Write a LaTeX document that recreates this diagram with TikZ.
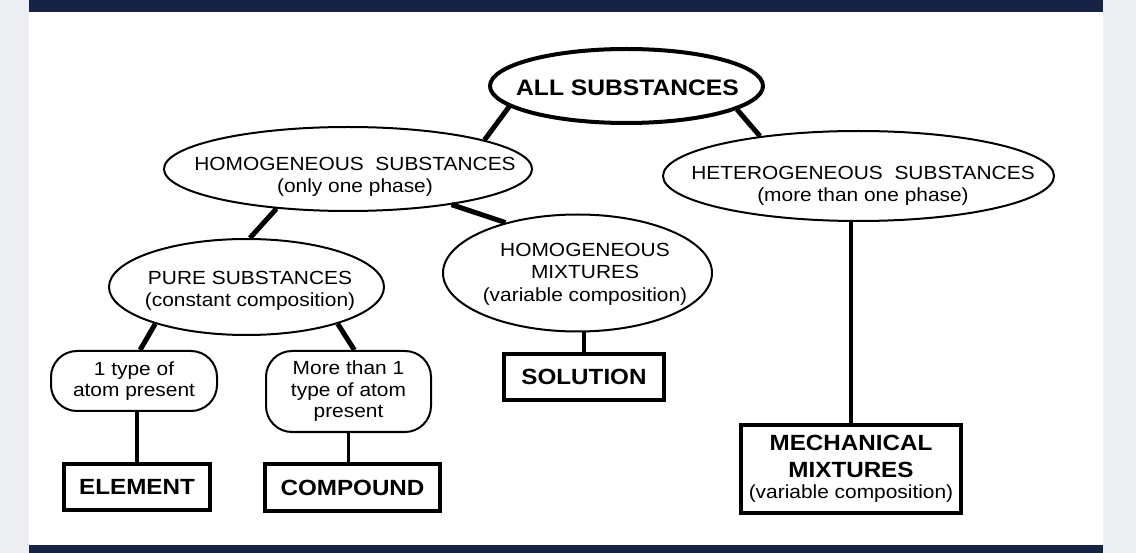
\documentclass[tikz,border=0pt]{standalone}
\usepackage{fontspec}
\setmainfont{Liberation Sans}[FakeStretch=1.1]
\usetikzlibrary{shapes.geometric}
\definecolor{sidegray}{HTML}{EDEEF2}
\definecolor{barnavy}{HTML}{162344}

\begin{document}
\begin{tikzpicture}[x=1pt, y=-1pt,
  every node/.style={font=\fontsize{19}{21.5}\selectfont, align=center, inner sep=0pt},
  oval/.style={draw, ellipse, line width=2pt},
  bigoval/.style={draw, ellipse, line width=4pt},
  pill/.style={draw, rectangle, rounded corners=26pt, line width=2pt},
  namebox/.style={draw, rectangle, line width=4.5pt, font=\bfseries\fontsize{22}{27}\selectfont},
  bigline/.style={line width=5pt},
  stemline/.style={line width=3.5pt}]
\useasboundingbox (0,0) rectangle (1136,553);
\fill[sidegray] (0,0) rectangle (1136,553);
\fill[white] (29,0) rectangle (1103,553);
\fill[barnavy] (29,0) rectangle (1103,12);
\fill[barnavy] (29,545) rectangle (1103,553);

% ovals
\node[bigoval, minimum width=273pt, minimum height=74pt] (allsub) at (626.5,86) {};
\node[font=\bfseries\fontsize{22.4}{26}\selectfont] (allsubtext) at (627.5,87.5) {ALL SUBSTANCES};
\node[oval, minimum width=368pt, minimum height=84pt] (homsub) at (348,169) {};
\node (homsubtext) at (355,177) {HOMOGENEOUS\ \ SUBSTANCES\\(only one phase)};
\node[oval, minimum width=391pt, minimum height=90pt] (hetsub) at (858.5,176) {};
\node (hetsubtext) at (863,186) {HETEROGENEOUS\ \ SUBSTANCES\\(more than one phase)};
\node[oval, minimum width=275pt, minimum height=96pt] (puresub) at (246.5,287) {};
\node (puresubtext) at (250,291) {PURE SUBSTANCES\\(constant composition)};
\node[oval, minimum width=269pt, minimum height=117pt] (homix) at (577.5,273) {};
\node (homixtext) at (585,274) {HOMOGENEOUS\\[1pt]MIXTURES\\[1pt](variable composition)};

% pills and boxes
\node[pill, minimum width=166pt, minimum height=60pt] (onetype) at (134,381) {1 type of\\atom present};
\node[pill, minimum width=165pt, minimum height=81pt] (morethan) at (348.5,391.5) {More than 1\\type of atom\\present};
\node[namebox, minimum width=146pt, minimum height=46pt] (element) at (137,487) {ELEMENT};
\node[namebox, minimum width=175pt, minimum height=47pt] (compound) at (352.5,487.5) {COMPOUND};
\node[namebox, minimum width=160pt, minimum height=46pt] (solution) at (584,377) {SOLUTION};
\node[namebox, minimum width=220pt, minimum height=88pt] (mechmix) at (851,469) {MECHANICAL\\MIXTURES\\[-6pt]{\mdseries\fontsize{19}{22}\selectfont (variable composition)}};

\draw[bigline] (allsub.190) -- (homsub.12);
\draw[bigline] (allsub.348) -- (hetsub.158);
\draw[bigline] (homsub.209) -- (puresub.86);
\draw[bigline] (homsub.341) -- (homix.145);
\draw[bigline] (puresub.202) -- (onetype.79);
\draw[bigline] (puresub.338) -- (morethan.82);

\draw[stemline] (onetype.south -| element.north) -- (element.north);
\draw[stemline] (morethan.south) -- (morethan.south |- compound.north);
\draw[stemline] (homix.south -| solution.north) -- (solution.north);
\draw[stemline] (hetsub.south -| mechmix.north) -- (mechmix.north);
\end{tikzpicture}
\end{document}
